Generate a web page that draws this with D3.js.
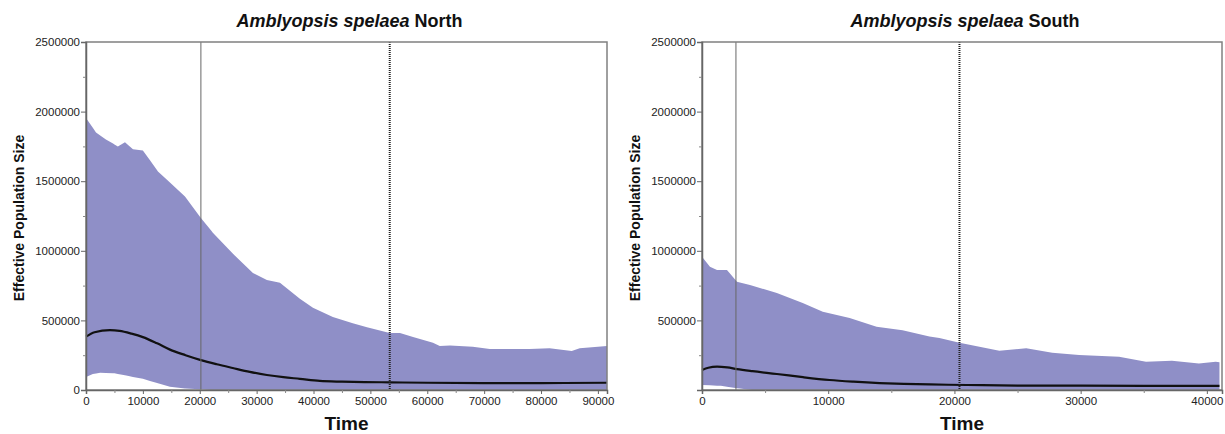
<!DOCTYPE html>
<html><head><meta charset="utf-8">
<script src="https://cdn.jsdelivr.net/npm/d3@7"></script>
<style>
body{margin:0;background:#fff;}
svg{display:block;font-family:"Liberation Sans",Arial,sans-serif;}
.tick text{font-size:11.5px;fill:#222;}
</style></head><body>
<svg id="c" width="1225" height="434"></svg>
<script>
// ---- North data ----
const northUpperT = [0,1760,3500,4750,5600,6850,8260,10000,11250,12650,14760,17400,20200,22300,25800,29350,31800,34100,37600,39900,43400,46900,49400,53400,55200,57500,61000,62200,64000,68000,71000,78000,81500,85400,86800,91600];
const northUpperV = [1954000,1850000,1800000,1770000,1750000,1780000,1730000,1720000,1650000,1570000,1490000,1390000,1236000,1130000,980000,840000,790000,770000,655000,590000,525000,480000,450000,410000,410000,380000,340000,316000,320000,310000,295000,295000,300000,280000,300000,316000];
const northLowerT = [0,1200,2500,5000,7500,10000,12500,14760,17500,20000,22000,91600];
const northLowerV = [93000,115000,124000,120000,100000,80000,50000,24000,10000,5000,0,0];
const northMedT = [0,1500,4200,5900,8000,10000,12500,14760,17500,20200,23000,25800,28800,31800,34700,37600,41100,45000,49000,53400,60000,70000,80000,91600];
const northMedV = [383000,415000,430000,425000,405000,380000,335000,290000,250000,215000,185000,158000,130000,108000,92000,80000,65000,60000,57000,55000,52000,50000,50000,52000];
const northXMax = 91600;
const northLines = [20200, 53400];

// ---- South data ----
const southUpperT = [0,630,1190,1980,2770,3800,5930,7980,9570,11700,13830,15890,18020,18810,20400,21980,23560,25690,27750,29880,33040,35180,37230,39370,40700,41000];
const southUpperV = [958000,886000,862000,862000,778000,754000,697000,625000,562000,517000,455000,430000,385000,373000,340000,311000,282000,300000,268000,251000,239000,203000,210000,191000,203000,200000];
const southLowerT = [0,1500,3000,4000,41000];
const southLowerV = [36000,30000,10000,0,0];
const southMedT = [0,500,1190,2000,2770,4000,5930,8000,10100,12000,14070,16000,18020,21000,25000,30000,35000,41000];
const southMedV = [144000,160000,168000,162000,150000,135000,115000,92000,72000,60000,50000,44000,40000,36000,32000,31000,30000,30000];
const southXMax = 41200;
const southLines = [2690, 20400];

const yTicks = [0,500000,1000000,1500000,2000000,2500000];
const yMinor = [250000,750000,1250000,1750000,2250000];

const svg = d3.select("#c");

function panel(cfg){
  const x = d3.scaleLinear().domain([0,cfg.xMax]).range(cfg.xr);
  const y = d3.scaleLinear().domain([0,2500000]).range([390,42]);
  const g = svg.append("g");
  const lower = d3.scaleLinear().domain(cfg.lowT).range(cfg.lowV);
  const upper = d3.scaleLinear().domain(cfg.upT).range(cfg.upV);
  const ts = Array.from(new Set(cfg.upT.concat(cfg.lowT))).sort((a,b)=>a-b);
  const band = ts.map(t=>({t, lo:lower(t), hi:upper(t)}));
  g.append("path").datum(band)
    .attr("fill","#8f8fc7")
    .attr("d", d3.area().x(d=>x(d.t)).y0(d=>y(d.lo)).y1(d=>y(d.hi)));
  const med = cfg.medT.map((t,i)=>({t,v:cfg.medV[i]}));
  g.append("path").datum(med).attr("fill","none").attr("stroke","#111").attr("stroke-width",2.2)
    .attr("d", d3.line().curve(d3.curveMonotoneX).x(d=>x(d.t)).y(d=>y(d.v)));
  g.append("line").attr("x1",x(cfg.lines[0])).attr("x2",x(cfg.lines[0])).attr("y1",42).attr("y2",390)
    .attr("stroke","#666").attr("stroke-width",1);
  g.append("line").attr("x1",x(cfg.lines[1])).attr("x2",x(cfg.lines[1])).attr("y1",42).attr("y2",390)
    .attr("stroke","#222").attr("stroke-width",2).attr("stroke-dasharray","1,1");
  g.append("rect").attr("x",cfg.xr[0]).attr("y",42).attr("width",cfg.xr[1]-cfg.xr[0]).attr("height",348)
    .attr("fill","none").attr("stroke","#808080").attr("stroke-width",1.5);
  const ya = g.append("g").attr("transform",`translate(${cfg.xr[0]},0)`)
    .call(d3.axisLeft(y).tickValues(cfg.yTickVals).tickFormat(d3.format("d")).tickSize(5).tickPadding(1));
  ya.select(".domain").attr("stroke","#666").attr("stroke-width",1.5);
  ya.selectAll(".tick line").attr("stroke","#666");
  g.append("g").attr("transform",`translate(${cfg.xr[0]},0)`)
    .call(d3.axisLeft(y).tickValues(yMinor).tickFormat("").tickSize(3))
    .call(a=>{a.select(".domain").remove(); a.selectAll("line").attr("stroke","#888");});
  const xa = g.append("g").attr("transform","translate(0,390)")
    .call(d3.axisBottom(x).tickValues(cfg.xTickVals).tickFormat(d3.format("d")).tickSize(4).tickPadding(3));
  xa.select(".domain").attr("stroke","#666").attr("stroke-width",1.5);
  xa.selectAll(".tick line").attr("stroke","#666");
  g.append("g").attr("transform","translate(0,390)")
    .call(d3.axisBottom(x).tickValues(cfg.xMinor).tickFormat("").tickSize(3))
    .call(a=>{a.select(".domain").remove(); a.selectAll("line").attr("stroke","#888");});
  const cx = (cfg.xr[0]+cfg.xr[1])/2;
  const tt = g.append("text").attr("x",cx+3).attr("y",27).attr("text-anchor","middle")
    .attr("font-size",18).attr("font-weight","bold").attr("fill","#111");
  tt.append("tspan").attr("font-style","italic").text("Amblyopsis spelaea");
  tt.append("tspan").text(" "+cfg.name);
  g.append("text").attr("transform",`translate(${cfg.ylx},218) rotate(-90)`).attr("text-anchor","middle")
    .attr("font-size",14).attr("font-weight","bold").attr("fill","#111").text("Effective Population Size");
  g.append("text").attr("x",cx).attr("y",430).attr("text-anchor","middle")
    .attr("font-size",19).attr("font-weight","bold").attr("fill","#111").text("Time");
}

panel({name:"North", xr:[86,607], xMax:northXMax, upT:northUpperT, upV:northUpperV, lowT:northLowerT, lowV:northLowerV,
  medT:northMedT, medV:northMedV, lines:northLines, yTickVals:yTicks, ylx:24,
  xTickVals:[0,10000,20000,30000,40000,50000,60000,70000,80000,90000],
  xMinor:[5000,15000,25000,35000,45000,55000,65000,75000,85000]});
panel({name:"South", xr:[702,1222], xMax:southXMax, upT:southUpperT, upV:southUpperV, lowT:southLowerT, lowV:southLowerV,
  medT:southMedT, medV:southMedV, lines:southLines, yTickVals:yTicks.slice(1), ylx:640,
  xTickVals:[0,10000,20000,30000,40000],
  xMinor:[5000,15000,25000,35000]});
</script></body></html>
